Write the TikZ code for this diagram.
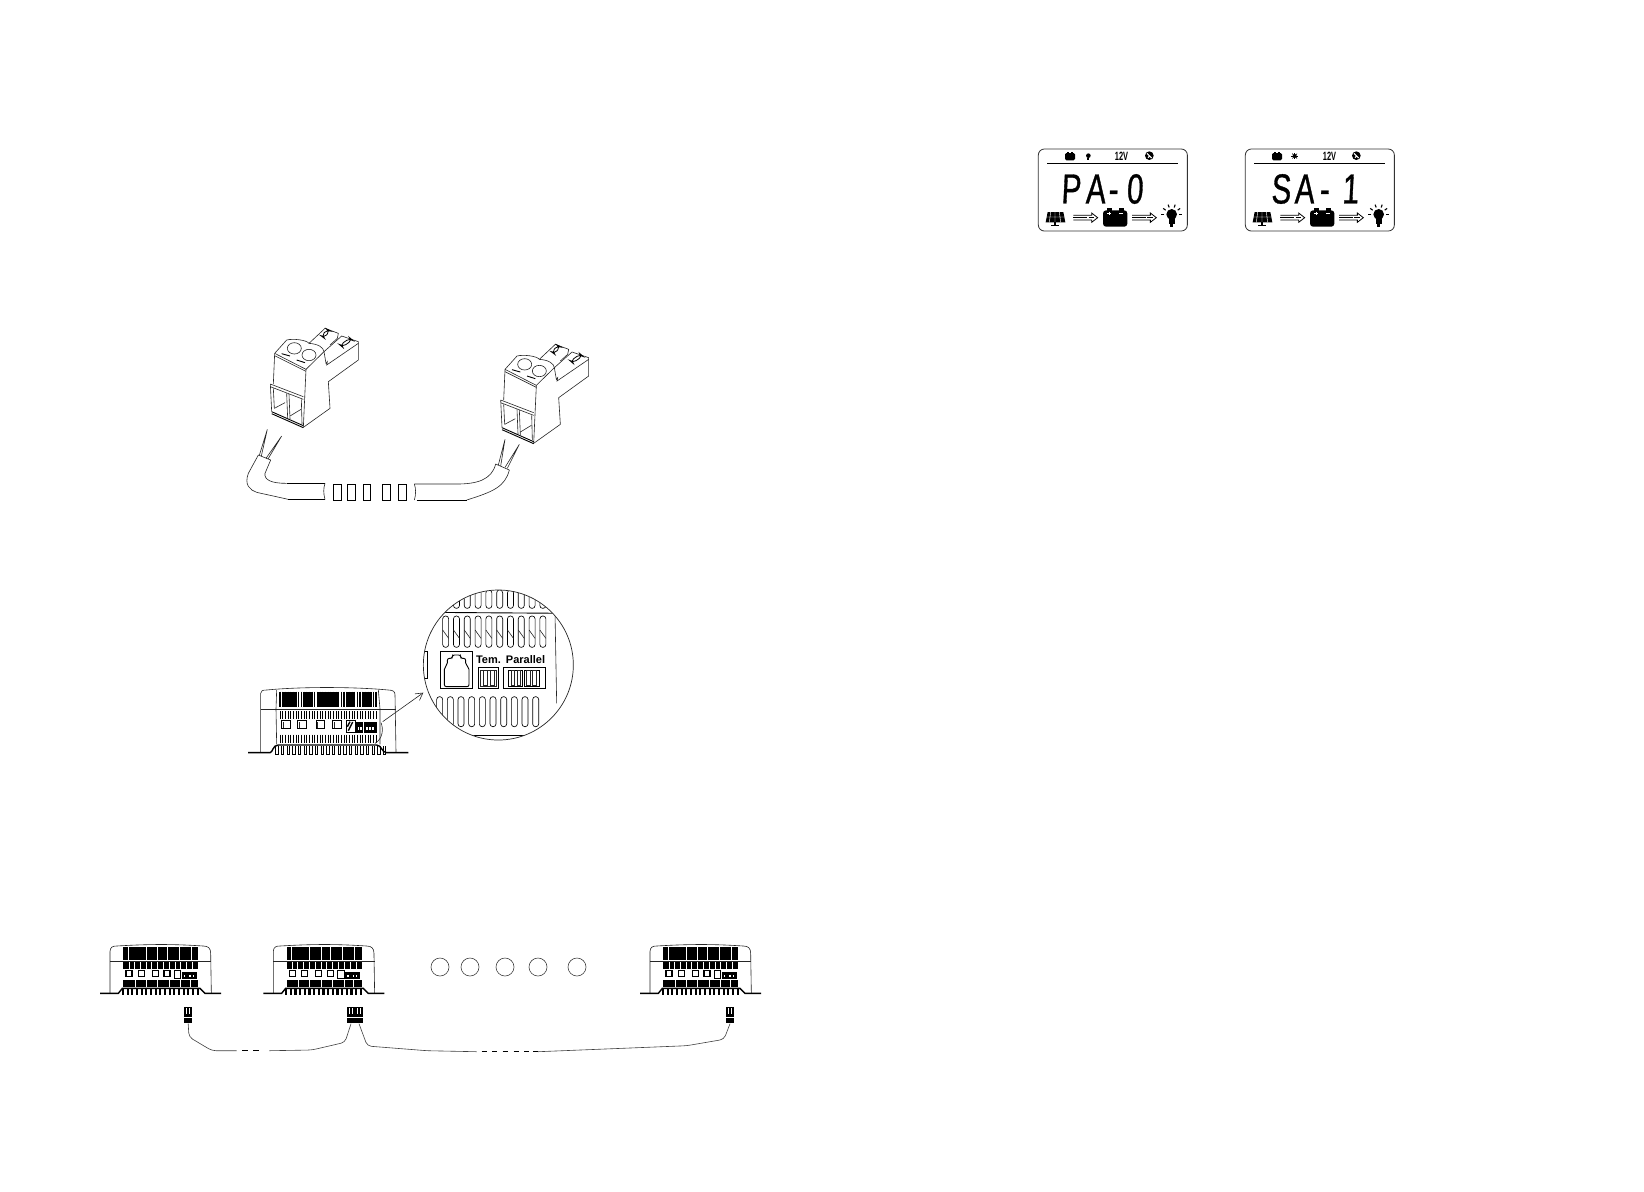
\documentclass[tikz,border=0pt]{standalone}
\usepackage{fontspec}
\setmainfont{Liberation Sans}
\newfontfamily\lcdfont[FakeStretch=0.7,FakeSlant=0.05,FakeBold=0.8]{Liberation Sans}
\newfontfamily\tinyfont[FakeStretch=0.62]{Liberation Sans}
\usetikzlibrary{arrows.meta}
\tikzset{
  thinline/.style={line width=0.3pt,draw=black!85},
  medline/.style={line width=0.45pt,draw=black},
  heavyline/.style={line width=0.7pt,draw=black},
  zoomunits/.style={x=0.16667pt,y=-0.16667pt},
  plugblock/.style={draw=none,fill=black,inner sep=0pt},
  slot/.style={line width=0.32pt,draw=black,rounded corners=1.4pt},
  cablewire/.style={line width=0.3pt,draw=black!75,rounded corners=2pt}
}
\newcommand{\lcdarrow}[1]{%
  \begin{scope}[shift={(#1,0)}]
    \draw[line width=0.4pt] (160,241) -- (215,241) -- (215,234) -- (233,248) -- (215,262) -- (215,255) -- (160,255);
    \draw[line width=0.4pt,dash pattern=on 7pt off 0.6pt] (160,248) -- (222,248);
  \end{scope}}
\newcommand{\lcdicons}{%
  \draw[line width=0.4pt,draw=black!80,rounded corners=3pt] (55,42) rectangle (502,288);
  \draw[line width=0.5pt] (82,85) -- (474,85);
  \fill[black,rounded corners=0.7pt] (135,54) rectangle (165,76);
  \fill (140,51) rectangle (146,55); \fill (154,51) rectangle (160,55);
  \fill (388,62) circle (13);
  \draw[white,line width=0.5pt] (381,55) -- (395,69) (384,68) -- (390,62);
  \fill[black] (83,231) -- (130,231) -- (136,262) -- (77,262) -- cycle;
  \draw[white,line width=0.22pt] (105,231) -- (105,262) (80,246) -- (133,246) (92,231) -- (88,262) (118,231) -- (122,262);
  \draw[line width=0.6pt] (105,262) -- (105,270) (93,271) -- (117,271);
  \lcdarrow{0}
  \fill[rounded corners=1.5pt] (249,226) rectangle (322,275);
  \fill (260,220) rectangle (275,228); \fill (296,220) rectangle (311,228);
  \draw[white,line width=0.35pt] (262,235) -- (272,235) (267,230) -- (267,240) (298,235) -- (308,235);
  \lcdarrow{176}
  \fill (455,238) circle (16);
  \fill (446,246) rectangle (464,268);
  \fill (451,268) rectangle (459,277);
  \foreach \a in {180,215,250,290,325,0}{\draw[line width=0.55pt] (455,238)++(\a:22) -- ++(\a:9);}
}
\newcommand{\smallctrl}[2]{%
  \begin{scope}[shift={(#1,#2)},zoomunits]
    \draw[thinline] (60,190) -- (60,65) .. controls (60,50) and (70,48) .. (80,48) .. controls (180,42) and (250,42) .. (340,48) .. controls (355,48) and (362,55) .. (362,70) -- (364,190);
    \draw[thinline] (60,93) -- (364,93);
    \fill (100,52) rectangle (325,90);
    \foreach \g in {115,168,203,232,268,303}{\draw[white,line width=0.3pt] (\g,52) -- (\g,90);}
    \fill (100,97) rectangle (325,118);
    \foreach \g in {118,133,150,168,185,203,220,238,255,272,290,308}{\draw[white,line width=0.3pt] (\g,97) -- (\g,118);}
    \fill (100,150) rectangle (325,172);
    \foreach \g in {135,168,203,238,272,300}{\draw[white,line width=0.35pt] (\g,150) -- (\g,172);}
    \foreach \g in {108,145,187,222}{\draw[line width=0.6pt,fill=white] (\g,122) rectangle ++(18,18);}
    \draw[line width=0.3pt,fill=white] (252,122) rectangle (272,146);
    \fill (275,125) rectangle (320,146);
    \foreach \g in {282,298,308}{\fill[white] (\g,134) rectangle ++(4,6);}
    \draw[heavyline] (30,190) -- (85,190) -- (97,175) -- (330,175) -- (345,190) -- (393,190);
    \foreach \g in {99,113,...,331}{\draw[line width=1.15pt] (\g,176) -- (\g,194);}
  \end{scope}}
\newcommand{\termplug}{%
  \draw[thinline] (134,130) -- (170,90) .. controls (190,85) and (230,90) .. (237,100) -- (285,55) -- (325,70) -- (322,85) -- (300,105);
  \draw[thinline] (237,100) .. controls (265,102) and (280,112) .. (282,125) -- (228,178);
  \draw[thinline] (282,125) -- (335,78) -- (385,95) -- (385,150) -- (295,215) -- (300,295) -- (220,352);
  \draw[thinline] (282,125) -- (288,160) -- (292,155) -- (290,165) -- (385,100);
  \draw[line width=0.4pt,rounded corners=2pt] (274,78) -- (292,58) -- (300,62) -- (282,84) -- cycle;
  \draw[line width=0.4pt,rounded corners=2pt] (330,105) -- (360,84) -- (367,90) -- (337,111) -- cycle;
  \draw[thinline] (193,115) ellipse (21 and 17);
  \draw[thinline] (237,135) ellipse (21 and 17);
  \draw[medline] (155,131) -- (180,138);
  \draw[medline] (200,150) -- (225,158);
  \draw[thinline] (134,130) -- (228,178) -- (220,352);
  \draw[thinline] (134,137) -- (228,184);
  \draw[thinline] (134,130) -- (130,222);
  \draw[thinline] (121,222) -- (220,260) (121,230) -- (220,268) (121,222) -- (125,305);
  \draw[thinline] (130,235) -- (133,295) (170,250) -- (173,325) (177,252) -- (180,327) (214,268) -- (216,342);
  \draw[thinline] (133,295) -- (165,278) (180,318) -- (213,298);
  \draw[medline] (125,305) -- (220,347);
  \draw[medline] (125,311) -- (220,353);
}
\begin{document}
\begin{tikzpicture}[x=0.5pt,y=-0.5pt]
\useasboundingbox[fill=white] (0,0) rectangle (1644,1191);

% ---------- LCDs ----------
\begin{scope}[shift={(1020,135)},zoomunits]
  \lcdicons
  \fill (205,62) circle (7);
  \fill (202,68) rectangle (208,76);
\end{scope}
\begin{scope}[shift={(1227,135)},zoomunits]
  \lcdicons
  \foreach \a in {0,45,...,315}{\draw[line width=0.3pt] (203,63)++(\a:5) -- ++(\a:5);}
  \fill (203,63) circle (6);
\end{scope}
\node[anchor=center,inner sep=0pt] (volta) at (1121.5,156) {\tinyfont\bfseries\fontsize{6}{7}\selectfont 12V};
\node[anchor=center,inner sep=0pt] (voltb) at (1329.5,156) {\tinyfont\bfseries\fontsize{6}{7}\selectfont 12V};
\node[anchor=west,inner sep=0pt] (parad) at (1058.5,189) {\lcdfont\fontsize{21}{24}\selectfont\makebox[12pt]{P}\makebox[12.6pt]{A}\makebox[5pt]{-}\makebox[16.6pt]{0}};
\node[anchor=west,inner sep=0pt] (sarad) at (1268.5,189) {\lcdfont\fontsize{21}{24}\selectfont\makebox[12pt]{S}\makebox[11.4pt]{A}\makebox[8.6pt]{-}\makebox[17.4pt]{1}};

% ---------- terminal connectors and cable ----------
\begin{scope}[shift={(230,310)},zoomunits]
  \termplug
  \begin{scope}[shift={(691,48)}]
    \termplug
  \end{scope}
  \draw[thinline] (85,435) -- (122,450);
  \draw[thinline] (88,436) -- (112,358) -- (94,438);
  \draw[thinline] (108,445) -- (155,378) -- (114,447);
  \draw[thinline] (122,450) -- (105,490) .. controls (102,510) and (125,520) .. (170,520);
  \draw[medline] (170,520) -- (285,520);
  \draw[thinline] (85,435) -- (55,490) .. controls (42,525) and (60,540) .. (80,547) -- (175,568);
  \draw[medline] (175,568) -- (285,568);
  \draw[thinline] (285,520) .. controls (280,535) and (280,550) .. (285,568);
  \foreach \a/\b in {310/333,353/375,400/422,458/480,505/530}{\draw[medline] (\a,524) rectangle (\b,570);}
  \draw[thinline] (553,522) .. controls (558,535) and (558,555) .. (553,570);
  \draw[thinline] (553,522) -- (680,522) .. controls (740,522) and (785,510) .. (797,462);
  \draw[thinline] (797,462) -- (838,480);
  \draw[thinline] (838,480) .. controls (825,530) and (790,545) .. (710,570);
  \draw[medline] (560,570) -- (710,570);
  \draw[thinline] (805,465) -- (825,388) -- (812,468);
  \draw[thinline] (825,472) -- (868,403) -- (832,475);
\end{scope}

% ---------- controller with inset ----------
\begin{scope}[shift={(240,580)},zoomunits]
  \draw[thinline] (62,517) -- (62,340) .. controls (62,332) and (68,330) .. (80,330) .. controls (180,320) and (340,320) .. (445,330) .. controls (460,330) and (465,335) .. (465,345) -- (468,517);
  \draw[thinline] (62,387) -- (468,387);
  \draw[thinline] (110,330) -- (108,387) -- (110,493);
  \draw[thinline] (415,330) -- (420,387) -- (420,493);
  \foreach \g in {120,128,...,408}{\draw[line width=0.55pt] (\g,335) -- (\g,382);}
  \foreach \a/\b in {130/165,190/215,235/295,322/345,370/395}{\fill (\a,335) rectangle (\b,382);}
  \foreach \g in {120,128,...,408}{\draw[line width=0.5pt] (\g,393) -- (\g,418);}
  \foreach \g in {120,128,...,408}{\draw[line width=0.5pt] (\g,464) -- (\g,490);}
  \foreach \g in {125,173,228,278}{\draw[line width=0.5pt] (\g,422) rectangle ++(25,23);\draw[thinline] (\g+5,427) -- ++(0,18);}
  \draw[line width=0.35pt,fill=white] (318,420) rectangle (345,458);
  \draw[line width=0.7pt] (325,452) -- (338,426) (322,440) -- (330,425);
  \fill (348,425) rectangle (369,458);
  \fill (373,425) rectangle (410,458);
  \foreach \g in {353,361,379,388,397}{\fill[white] (\g,440) rectangle ++(5,10);}
  \draw[thinline] (405,490) .. controls (430,475) and (430,445) .. (423,428);
  \draw[heavyline] (24,518) -- (90,518) .. controls (98,518) and (98,495) .. (115,495) -- (410,495) .. controls (425,495) and (425,518) .. (440,518) -- (505,518);
  \foreach \g in {107,124,...,430}{\draw[line width=0.4pt] (\g,498) -- (\g,522) -- (\g+7,522) -- (\g+7,498);}
  \coordinate (arrowfoot) at (428,425);
  \coordinate (arrowtip) at (550,338);
  \draw[thinline,-{Straight Barb[length=3.5pt,width=4pt]}] (arrowfoot) -- (arrowtip);
  \draw[line width=0.35pt,draw=black!85] (775,255) circle (225);
  \begin{scope}
    \clip (775,255) circle (224);
    \foreach \g in {608,640.4,...,905}{\draw[slot] (\g,30) rectangle ++(18,55);}
    \foreach \g in {608,640.4,...,905}{\draw[slot] (\g,108) rectangle ++(18,94);\draw[thinline] (\g,150) -- (\g+18,175);}
    \foreach \g in {590,622,...,905}{\draw[slot] (\g,350) rectangle ++(18,90);}
    \draw[medline] (560,97) -- (990,100);
    \draw[medline] (550,215) -- (562,215) -- (562,295) -- (550,295);
    \draw[thinline] (945,100) -- (950,370);
    \draw[medline] (550,465) -- (990,465);
  \end{scope}
  \draw[line width=0.55pt] (602,326) -- (602,215) -- (697,215) -- (697,326) -- cycle;
  \draw[line width=0.8pt] (602,215) -- (697,215);
  \draw[medline,rounded corners=1pt] (613,320) -- (613,262) -- (622,255) -- (622,235) -- (637,235) -- (637,225) -- (662,225) -- (662,235) -- (677,235) -- (677,255) -- (687,262) -- (687,320) -- cycle;
  \draw[medline] (715,263) rectangle (775,326);
  \draw[thinline] (722,270) rectangle (768,318);
  \draw[thinline] (730,272) rectangle (742,315) (750,272) rectangle (762,315);
  \draw[medline] (790,263) rectangle (915,326);
  \draw[medline] (805,270) rectangle (848,318) (852,270) rectangle (897,318);
  \draw[thinline] (813,272) rectangle (824,315) (831,272) rectangle (842,315) (860,272) rectangle (871,315) (878,272) rectangle (889,315);
\end{scope}
\node[inner sep=0pt,font=\bfseries\fontsize{5.5}{7}\selectfont] (temlabel) at (488.5,659.5) {Tem.};
\node[inner sep=0pt,font=\bfseries\fontsize{5.5}{7}\selectfont] (parlabel) at (525.5,659.5) {Parallel};

% ---------- parallel wiring ----------
\smallctrl{90}{930}
\smallctrl{253.3}{930}
\smallctrl{630}{930}
\foreach \n/\x in {ra/440,rb/470,rc/505,rd/538,re/577}{\node[circle,draw=black!75,line width=0.3pt,minimum size=9pt,inner sep=0pt] (\n) at (\x,967) {};}
\node[plugblock,minimum width=4pt,minimum height=8.3pt] (pa) at (188.2,1015) {};
\node[plugblock,minimum width=4pt,minimum height=8.3pt] (pb) at (351,1015) {};
\node[plugblock,minimum width=4pt,minimum height=8.3pt] (pc) at (359,1015) {};
\node[plugblock,minimum width=4pt,minimum height=8.3pt] (pd) at (730,1015) {};
\foreach \c in {pa,pb,pc,pd}{
  \draw[white,line width=0.45pt] ([xshift=-0.8pt,yshift=-1pt]\c.north) -- ([xshift=-0.8pt,yshift=-4pt]\c.north) ([xshift=0.8pt,yshift=-1pt]\c.north) -- ([xshift=0.8pt,yshift=-4pt]\c.north);
  \draw[white,line width=0.35pt] ([yshift=-5.5pt]\c.north west) -- ([yshift=-5.5pt]\c.north east);
}
\coordinate (a1) at (189,1037);
\coordinate (a2) at (212,1050.7);
\coordinate (a3) at (236.7,1050.7);
\coordinate (b1) at (269.3,1050.7);
\coordinate (b2) at (311.7,1050);
\coordinate (b3) at (345,1042.3);
\coordinate (c1) at (367.3,1046);
\coordinate (c2) at (427,1050.7);
\coordinate (c3) at (476.7,1051.7);
\coordinate (d1) at (538,1051.7);
\coordinate (d2) at (686.7,1045.7);
\coordinate (d3) at (724,1039.3);
\draw[cablewire] (pa.south) -- (a1) -- (a2) -- (a3);
\draw[cablewire] (b1) -- (b2) -- (b3) -- (pb.south);
\draw[cablewire] (pc.south) -- (c1) -- (c2) -- (c3);
\draw[cablewire] (d1) -- (d2) -- (d3) -- (pd.south);
\foreach \a/\b in {242.3/248.3,253.3/259}{\draw[line width=0.5pt] (\a,1050.7) -- (\b,1050.7);}
\foreach \a in {481.5,492,502.5,513.5,524,533}{\draw[line width=0.5pt] (\a,1051.7) -- ++(5,0);}
\end{tikzpicture}
\end{document}
